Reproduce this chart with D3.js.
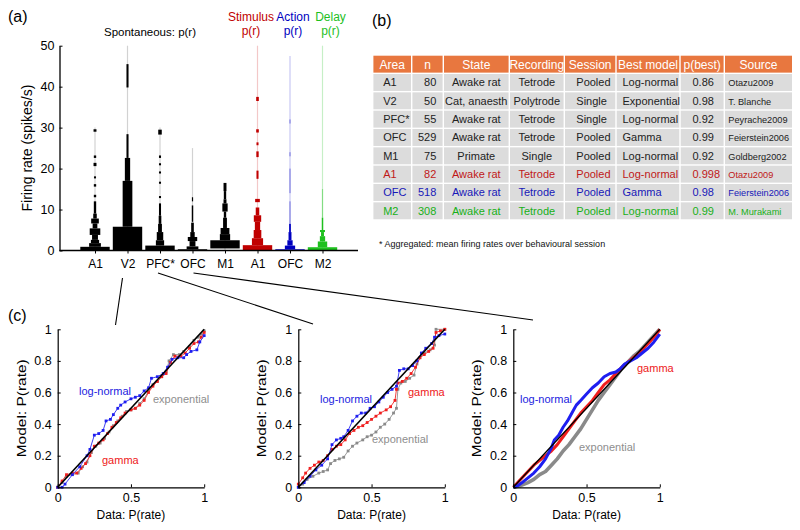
<!DOCTYPE html>
<html><head><meta charset="utf-8">
<script src="https://cdn.jsdelivr.net/npm/d3@7"></script>
<style>
body{margin:0;background:#fff}
text{font-family:"Liberation Sans",Arial,sans-serif}
</style>
</head><body>
<svg id="fig" width="800" height="530"></svg>
<script>
// ---------------- DATA ----------------
const violinCategories = ["A1","V2","PFC*","OFC","M1","A1","OFC","M2"];
const violinGroups = ["spont","spont","spont","spont","spont","stim","action","delay"];
const violinMax = [30, 50, 30, 25, 16.5, 50, 47.5, 50];
const yTicksA = [0,10,20,30,40,50];
// bins: [low rate, high rate, relative half-width]
const binsA1 = [[0,0.9,1.0],[0.9,1.8,0.4],[1.8,2.6,0.28],[2.6,3.8,0.2],[3.8,5.4,0.36],[5.4,6.6,0.16],[6.6,7.8,0.26],[7.8,9,0.12],[9,12,0.08],[13,13.6,0.08],[15.6,16.2,0.08],[17.6,18.1,0.07],[20.6,21.4,0.1],[22.6,23.2,0.08],[29.0,29.6,0.1]];
const binsV2 = [[0,5.8,1.0],[5.8,17,0.33],[17,22.6,0.18],[22.6,28.4,0.07],[39.8,45.5,0.07]];
const binsPFC = [[0,1.2,1.0],[1.2,2.5,0.28],[2.5,4.5,0.22],[4.5,6.5,0.13],[6.5,8.5,0.09],[8.5,11.5,0.07],[12.8,13.3,0.07],[16.3,16.8,0.07],[18.8,19.3,0.07],[20.8,21.3,0.07],[22.6,23.2,0.07],[28.3,29.5,0.12]];
const binsOFC = [[0,0.3,1.0],[0.3,1.0,0.4],[1.0,2.3,0.2],[2.3,3.3,0.32],[3.3,4.5,0.15],[4.5,6.8,0.09],[7,11,0.05],[12,13,0.04]];
const binsM1 = [[0.5,2.5,1.0],[2.5,4,0.35],[4,5.5,0.3],[5.5,8,0.13],[8,9.5,0.08],[9.5,11.5,0.18],[11.5,12.5,0.1],[12.5,14.5,0.08],[14.5,16.5,0.1]];
const binsStimA1 = [[0,1.3,1.0],[1.3,3,0.38],[3,5,0.26],[5,7,0.18],[7,8.6,0.25],[8.6,10.5,0.12],[11.8,12.6,0.16],[17.5,19.5,0.07],[22.8,24.2,0.08],[25.7,26.4,0.07],[28.8,29.6,0.09],[36.5,37.5,0.09]];
const binsActionOFC = [[0,0.3,1.0],[0.3,1.2,0.35],[1.2,2.5,0.18],[2.5,4.5,0.1],[4.5,6.5,0.06],[6.5,12,0.04],[14,20,0.03],[23,24,0.03],[31,32,0.03]];
const binsDelayM2 = [[0,0.8,1.0],[0.8,2.2,0.32],[2.2,3.5,0.18],[3.5,4.5,0.1],[4.5,5,0.17],[5,8,0.05],[8,15,0.03]];
const violinBins = [binsA1, binsV2, binsPFC, binsOFC, binsM1, binsStimA1, binsActionOFC, binsDelayM2];

const tableHeader = ["Area","n","State","Recording","Session","Best model","p(best)","Source"];
const tableArea = ["A1","V2","PFC*","OFC","M1","A1","OFC","M2"];
const tableN = ["80","50","55","529","75","82","518","308"];
const tableState = ["Awake rat","Cat, anaesth","Awake rat","Awake rat","Primate","Awake rat","Awake rat","Awake rat"];
const tableRecording = ["Tetrode","Polytrode","Tetrode","Tetrode","Single","Tetrode","Tetrode","Tetrode"];
const tableSession = ["Pooled","Single","Single","Pooled","Pooled","Pooled","Pooled","Pooled"];
const tableModel = ["Log-normal","Exponential","Log-normal","Gamma","Log-normal","Log-normal","Gamma","Log-normal"];
const tablePBest = ["0.86","0.98","0.92","0.99","0.92","0.998","0.98","0.99"];
const tableSource = ["Otazu2009","T. Blanche","Peyrache2009","Feierstein2006","Goldberg2002","Otazu2009","Feierstein2006","M. Murakami"];
const tableGroup = ["spont","spont","spont","spont","spont","stim","action","delay"];

// P-P plots: [data P(rate), model P(rate)]
const ppV2LogNormal = [[0,0],[0.03,0.0],[0.05,0.02],[0.1,0.08],[0.15,0.13],[0.2,0.2],[0.22,0.24],[0.25,0.33],[0.28,0.34],[0.31,0.36],[0.33,0.42],[0.36,0.43],[0.38,0.46],[0.41,0.5],[0.43,0.52],[0.46,0.54],[0.5,0.56],[0.53,0.57],[0.56,0.58],[0.59,0.61],[0.62,0.63],[0.64,0.69],[0.68,0.7],[0.72,0.72],[0.75,0.76],[0.78,0.81],[0.82,0.82],[0.86,0.82],[0.88,0.84],[0.91,0.86],[0.95,0.87],[0.97,0.92],[1.0,0.96]];
const ppV2Gamma = [[0,0],[0.03,0.04],[0.06,0.08],[0.1,0.09],[0.13,0.09],[0.16,0.12],[0.19,0.15],[0.22,0.2],[0.25,0.26],[0.28,0.28],[0.31,0.3],[0.34,0.34],[0.37,0.38],[0.4,0.41],[0.43,0.44],[0.46,0.47],[0.5,0.49],[0.53,0.5],[0.56,0.52],[0.59,0.55],[0.62,0.6],[0.65,0.64],[0.68,0.67],[0.71,0.7],[0.74,0.72],[0.77,0.79],[0.8,0.83],[0.84,0.83],[0.87,0.85],[0.9,0.88],[0.93,0.91],[0.96,0.92],[0.98,0.95],[1.0,0.98]];
const ppV2Exponential = [[0,0],[0.03,0.03],[0.06,0.07],[0.1,0.08],[0.14,0.09],[0.17,0.13],[0.2,0.16],[0.23,0.22],[0.26,0.26],[0.29,0.28],[0.32,0.31],[0.35,0.35],[0.38,0.39],[0.41,0.42],[0.44,0.45],[0.47,0.48],[0.5,0.49],[0.53,0.5],[0.56,0.53],[0.59,0.56],[0.62,0.61],[0.65,0.65],[0.68,0.67],[0.71,0.7],[0.74,0.73],[0.76,0.8],[0.79,0.84],[0.83,0.84],[0.86,0.86],[0.9,0.89],[0.93,0.93],[0.96,0.95],[0.98,0.97],[1.0,0.99]];
const ppPFCLogNormal = [[0,0],[0.04,0.03],[0.08,0.07],[0.12,0.11],[0.16,0.14],[0.2,0.18],[0.23,0.27],[0.26,0.3],[0.29,0.31],[0.31,0.32],[0.34,0.36],[0.37,0.42],[0.4,0.45],[0.43,0.47],[0.46,0.47],[0.49,0.5],[0.52,0.51],[0.55,0.54],[0.58,0.57],[0.61,0.6],[0.64,0.62],[0.67,0.64],[0.69,0.74],[0.72,0.75],[0.75,0.75],[0.78,0.77],[0.81,0.8],[0.84,0.85],[0.87,0.88],[0.91,0.91],[0.93,0.95],[0.96,0.96],[1.0,0.97]];
const ppPFCGamma = [[0,0.02],[0.03,0.06],[0.05,0.09],[0.08,0.12],[0.11,0.14],[0.14,0.16],[0.17,0.17],[0.2,0.2],[0.23,0.24],[0.26,0.26],[0.29,0.27],[0.32,0.3],[0.35,0.34],[0.38,0.36],[0.41,0.38],[0.44,0.39],[0.47,0.41],[0.5,0.43],[0.53,0.45],[0.56,0.47],[0.6,0.49],[0.63,0.51],[0.66,0.55],[0.67,0.62],[0.68,0.66],[0.71,0.67],[0.74,0.69],[0.77,0.72],[0.8,0.76],[0.83,0.82],[0.86,0.84],[0.89,0.86],[0.92,0.88],[0.94,0.98],[0.97,0.99],[1.0,1.0]];
const ppPFCExponential = [[0,0],[0.03,0.02],[0.06,0.05],[0.1,0.07],[0.14,0.09],[0.17,0.1],[0.2,0.11],[0.22,0.15],[0.25,0.17],[0.28,0.18],[0.31,0.19],[0.34,0.23],[0.37,0.26],[0.4,0.28],[0.44,0.3],[0.47,0.32],[0.5,0.33],[0.53,0.35],[0.56,0.38],[0.59,0.4],[0.62,0.43],[0.65,0.47],[0.67,0.5],[0.68,0.62],[0.7,0.66],[0.73,0.67],[0.76,0.69],[0.79,0.71],[0.81,0.78],[0.83,0.82],[0.86,0.85],[0.9,0.87],[0.93,0.9],[0.94,1.0],[1.0,1.0]];
const ppOFCLogNormal = [[0,0],[0.03,0.01],[0.06,0.03],[0.1,0.06],[0.14,0.09],[0.18,0.13],[0.22,0.18],[0.26,0.25],[0.28,0.3],[0.31,0.33],[0.34,0.38],[0.37,0.42],[0.4,0.47],[0.43,0.52],[0.46,0.55],[0.5,0.59],[0.54,0.63],[0.58,0.66],[0.62,0.7],[0.66,0.72],[0.7,0.73],[0.73,0.75],[0.76,0.78],[0.8,0.8],[0.84,0.82],[0.88,0.85],[0.92,0.88],[0.96,0.92],[1.0,0.97]];
const ppOFCGamma = [[0,0],[0.03,0.03],[0.06,0.06],[0.1,0.1],[0.14,0.14],[0.18,0.17],[0.22,0.2],[0.26,0.23],[0.3,0.27],[0.34,0.32],[0.38,0.37],[0.42,0.42],[0.46,0.47],[0.5,0.51],[0.54,0.55],[0.58,0.6],[0.62,0.65],[0.66,0.68],[0.7,0.72],[0.74,0.76],[0.78,0.79],[0.82,0.82],[0.86,0.85],[0.9,0.89],[0.94,0.93],[0.97,0.96],[1.0,1.0]];
const ppOFCExponential = [[0,0],[0.05,0.01],[0.1,0.03],[0.14,0.05],[0.18,0.08],[0.22,0.1],[0.26,0.14],[0.3,0.18],[0.34,0.23],[0.38,0.27],[0.42,0.32],[0.46,0.37],[0.5,0.43],[0.54,0.49],[0.58,0.55],[0.62,0.6],[0.66,0.65],[0.7,0.7],[0.74,0.75],[0.78,0.79],[0.82,0.83],[0.86,0.86],[0.9,0.9],[0.94,0.94],[0.97,0.97],[1.0,1.0]];
const ppXTicks = [0,0.5,1];
const ppYTicks = [0,0.2,0.4,0.6,0.8,1];

// ---------------- STYLE ----------------
const groupColor = {spont:"#000000", stim:"#C00000", action:"#0000C0", delay:"#1EC01E"};
const groupLight = {spont:"#d2d2d2", stim:"#f3c8c8", action:"#c8c8f3", delay:"#c6efc6"};
const textColor = {spont:"#222", stim:"#C01818", action:"#1818B8", delay:"#18B018"};
const FONT = '"Liberation Sans",Arial,sans-serif';

const svg = d3.select("#fig");

// ---------------- PANEL A ----------------
const ya = d3.scaleLinear().domain([0,50]).range([250.5, 45.7]);
const xa = d3.scalePoint().domain(d3.range(violinCategories.length)).range([95, 322.5]);
const wa = d3.scaleLinear().domain([0,1]).range([0,14.7]);
const gA = svg.append("g");

violinBins.forEach((bins,i)=>{
  const cx = xa(i), grp = violinGroups[i];
  gA.append("line").attr("x1",cx).attr("x2",cx).attr("y1",ya(0)).attr("y2",ya(violinMax[i]))
    .attr("stroke",groupLight[grp]).attr("stroke-width",1.2);
  gA.selectAll(null).data(bins).enter().append("rect")
    .attr("x",b=>cx-Math.max(wa(b[2]),0.6))
    .attr("width",b=>Math.max(2*wa(b[2]),1.2))
    .attr("y",b=>ya(b[1]))
    .attr("height",b=>ya(b[0])-ya(b[1]))
    .attr("fill",groupColor[grp])
    .attr("opacity",b=>(grp!=="spont" && grp!=="stim" && b[2]<0.045) ? 0.4 : 1);
});

// axes
const yAxisA = d3.axisLeft(ya).tickValues(yTicksA).tickSizeInner(-3).tickSizeOuter(0).tickPadding(5);
const gy = gA.append("g").attr("transform","translate(59.5,0)").call(yAxisA);
gy.select(".domain").attr("stroke-width",1.3);
gy.selectAll("text").attr("font-size",12.5).attr("font-family",FONT).attr("fill","#000");
const xAxisA = d3.axisBottom(xa).tickFormat(i=>violinCategories[i]).tickSizeInner(3).tickSizeOuter(0).tickPadding(6);
const gx = gA.append("g").attr("transform",`translate(0,${ya(0)})`).call(xAxisA);
gx.select(".domain").remove();
gx.selectAll("text").attr("font-size",12).attr("font-family",FONT).attr("fill","#000");
gA.append("line").attr("x1",59.5).attr("x2",358).attr("y1",ya(0)).attr("y2",ya(0)).attr("stroke","#000").attr("stroke-width",1.4);

gA.append("text").attr("transform",`translate(32,${(ya(0)+ya(50))/2}) rotate(-90)`)
  .attr("text-anchor","middle").attr("font-size",14).text("Firing rate (spikes/s)");
gA.append("text").attr("x",8).attr("y",22).attr("font-size",16).text("(a)");
gA.append("text").attr("x",(xa(0)+xa(4))/2-10).attr("y",36).attr("text-anchor","middle").attr("font-size",11.5).text("Spontaneous: p(r)");
const titleOffsets = [-6.5, 3, 8];
["Stimulus","Action","Delay"].forEach((t,k)=>{
  const i = 5+k, cx = xa(i)+titleOffsets[k], c = groupColor[violinGroups[i]];
  gA.append("text").attr("x",cx).attr("y",21).attr("text-anchor","middle").attr("font-size",12).attr("fill",c).text(t);
  gA.append("text").attr("x",cx).attr("y",35).attr("text-anchor","middle").attr("font-size",12).attr("fill",c).text("p(r)");
});

// ---------------- PANEL B ----------------
const colEdges = [372.7, 411.7, 443.3, 509.3, 564.3, 616, 680, 724.3, 792.7];
const rowTop = 55, rowH = 18.33;
const gB = svg.append("g");
gB.append("text").attr("x",372).attr("y",26).attr("font-size",16).text("(b)");
const nRows = tableArea.length;
const columns = [tableArea, tableN, tableState, tableRecording, tableSession, tableModel, tablePBest, tableSource];
const colAlign = ["start","end","middle","middle","start","start","start","start"];
const colPad = [10.5, 7, 0, 0, 12, 6.5, 12.5, 4];
const colFont = [11, 11, 11, 11, 11, 11, 11, 9.2];
// header
tableHeader.forEach((h,c)=>{
  gB.append("rect").attr("x",colEdges[c]+0.7).attr("y",rowTop+0.7).attr("width",colEdges[c+1]-colEdges[c]-1.4).attr("height",rowH-1.4).attr("fill","#E8773F");
  gB.append("text").attr("x",(colEdges[c]+colEdges[c+1])/2).attr("y",rowTop+13.5).attr("text-anchor","middle")
    .attr("font-size",12).attr("fill","#fff").text(h);
});
for(let r=0;r<nRows;r++){
  const top = rowTop + rowH*(r+1);
  columns.forEach((col,c)=>{
    gB.append("rect").attr("x",colEdges[c]+0.7).attr("y",top+0.7).attr("width",colEdges[c+1]-colEdges[c]-1.4).attr("height",rowH-1.4).attr("fill","#DCDCDC");
    const al = colAlign[c];
    const x = al==="start" ? colEdges[c]+colPad[c] : al==="end" ? colEdges[c+1]-colPad[c] : (colEdges[c]+colEdges[c+1])/2;
    gB.append("text").attr("x",x).attr("y",top+13).attr("text-anchor",al).attr("font-size",colFont[c])
      .attr("fill",textColor[tableGroup[r]]).text(col[r]);
  });
}
gB.append("text").attr("x",379).attr("y",247).attr("font-size",9).attr("fill","#111").text("* Aggregated: mean firing rates over behavioural session");

// ---------------- PANEL C ----------------
const plotLefts = [57.7, 298.3, 513.3];
const plotW = 146.5, plotTop = 329.3, plotBot = 487.3;
const ppSets = [
  {log:ppV2LogNormal, gam:ppV2Gamma, exp:ppV2Exponential, thick:false},
  {log:ppPFCLogNormal, gam:ppPFCGamma, exp:ppPFCExponential, thick:false},
  {log:ppOFCLogNormal, gam:ppOFCGamma, exp:ppOFCExponential, thick:true}
];
const labelPos = [
  {log:[79,395], gam:[102,464], exp:[153,402.7]},
  {log:[320,403], gam:[408,395.7], exp:[372,443]},
  {log:[520,402.7], gam:[637,372], exp:[579,450.7]}
];
const cBlue="#1E1EF0", cRed="#F01E1E", cGray="#8A8A8A";
const gC = svg.append("g");
gC.append("text").attr("x",8).attr("y",321).attr("font-size",16).text("(c)");

ppSets.forEach((s,k)=>{
  const x = d3.scaleLinear().domain([0,1]).range([plotLefts[k], plotLefts[k]+plotW]);
  const y = d3.scaleLinear().domain([0,1]).range([plotBot, plotTop]);
  const g = gC.append("g");
  const line = d3.line().x(d=>x(d[0])).y(d=>y(d[1]));
  const series = [[s.exp,cGray],[s.gam,cRed],[s.log,cBlue]];
  series.forEach(([data,col])=>{
    if(s.thick){
      g.append("path").attr("d",line(data)).attr("fill","none").attr("stroke",col)
        .attr("stroke-width",col===cGray?3.6:3).attr("stroke-linejoin","round");
    } else {
      g.append("path").attr("d",line(data)).attr("fill","none").attr("stroke",col).attr("stroke-width",1).attr("opacity",0.85);
      g.selectAll(null).data(data).enter().append("rect")
        .attr("x",d=>x(d[0])-1.4).attr("y",d=>y(d[1])-1.4).attr("width",2.8).attr("height",2.8).attr("fill",col);
    }
  });
  g.append("line").attr("x1",x(0)).attr("y1",y(0)).attr("x2",x(1)).attr("y2",y(1))
    .attr("stroke","#000").attr("stroke-width",s.thick?1.3:1.6);
  const ax = d3.axisBottom(x).tickValues(ppXTicks).tickFormat(d3.format("~g")).tickSizeInner(-3).tickSizeOuter(0).tickPadding(6);
  const ay = d3.axisLeft(y).tickValues(ppYTicks).tickFormat(d3.format("~g")).tickSizeInner(-3).tickSizeOuter(0).tickPadding(6);
  const gx = g.append("g").attr("transform",`translate(0,${plotBot})`).call(ax);
  const gy = g.append("g").attr("transform",`translate(${plotLefts[k]},0)`).call(ay);
  [gx,gy].forEach(a=>{a.select(".domain").attr("stroke-width",1.2);a.selectAll("text").attr("font-size",12.5).attr("font-family",FONT).attr("fill","#000");});
  g.append("text").attr("x",x(0.5)).attr("y",519).attr("text-anchor","middle").attr("font-size",12).text("Data: P(rate)");
  g.append("text").attr("transform",`translate(${plotLefts[k]-32},${(plotTop+plotBot)/2}) rotate(-90)`)
    .attr("text-anchor","middle").attr("font-size",13.5).attr("textLength",98).attr("lengthAdjust","spacingAndGlyphs").text("Model: P(rate)");
  const lp = labelPos[k];
  g.append("text").attr("x",lp.log[0]).attr("y",lp.log[1]).attr("font-size",11).attr("fill","#2222E0").text("log-normal");
  g.append("text").attr("x",lp.gam[0]).attr("y",lp.gam[1]).attr("font-size",11).attr("fill","#EE2020").text("gamma");
  g.append("text").attr("x",lp.exp[0]).attr("y",lp.exp[1]).attr("font-size",11).attr("fill","#8E8E8E").text("exponential");
});

// connector lines from panel (a) categories to panel (c)
const connFrom = [1,2,3];
const connStartY = [278, 273, 273];
const connStartDx = [-5, -2, 1];
const connEnd = [[115.5,325],[313,324],[533,320]];
connFrom.forEach((ci,k)=>{
  svg.append("line").attr("x1",xa(ci)+connStartDx[k]).attr("y1",connStartY[k])
    .attr("x2",connEnd[k][0]).attr("y2",connEnd[k][1]).attr("stroke","#000").attr("stroke-width",1.1);
});
</script>
</body></html>
